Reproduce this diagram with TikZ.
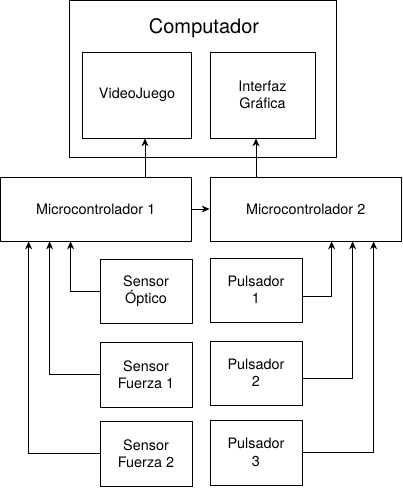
\documentclass[tikz,border=0pt]{standalone}
\usepackage{fontspec}
\setmainfont{TeX Gyre Heros}
\usetikzlibrary{arrows.meta,positioning}

\begin{document}
\begin{tikzpicture}[x=1pt, y=1pt,
  block/.style={draw, line width=0.8pt, inner sep=0pt, align=center,
                font=\fontsize{14.4}{17.3}\selectfont},
  link/.style={-{Stealth[length=8pt, width=7pt]}, line width=0.8pt},
]
\useasboundingbox (0,0) rectangle (403,-488);

% Computador
\node[block, minimum width=267pt, minimum height=157pt] (comp) at (202.5,-78.75) {};
\node[font=\fontsize{20}{24}\selectfont] (compl) at (204,-28) {Computador};
\node[block, minimum width=109pt, minimum height=86pt] (vj) at (137,-95) {VideoJuego};
\node[block, minimum width=105pt, minimum height=86pt] (ig) at (262.5,-95) {Interfaz\\Gráfica};

% Microcontroladores
\node[block, minimum width=190.5pt, minimum height=64pt] (m1) at (95.75,-209) {Microcontrolador 1};
\node[block, minimum width=191.5pt, minimum height=64pt] (m2) at (305.75,-209) {Microcontrolador 2};

% Sensores
\node[block, minimum width=92pt, minimum height=64pt] (so) at (146,-291) {Sensor\\Óptico};
\node[block, minimum width=92pt, minimum height=65pt] (sf1) at (146,-374.5) {Sensor\\Fuerza 1};
\node[block, minimum width=92pt, minimum height=65pt] (sf2) at (146,-453.5) {Sensor\\Fuerza 2};

% Pulsadores
\node[block, minimum width=92pt, minimum height=64pt] (p1) at (256,-290) {Pulsador\\1};
\node[block, minimum width=92pt, minimum height=64pt] (p2) at (256,-373) {Pulsador\\2};
\node[block, minimum width=92pt, minimum height=65pt] (p3) at (256,-452.5) {Pulsador\\3};

% Conexiones
\draw[link] ([xshift=8pt]vj.south |- m1.north) -- ([xshift=8pt]vj.south);
\draw[link] ([xshift=-6.5pt]ig.south |- m2.north) -- ([xshift=-6.5pt]ig.south);
\draw[link] (m1.east) -- (m2.west);

\draw[link] (so.west) -| ([xshift=70.5pt]m1.south west);
\draw[link] (sf1.west) -| ([xshift=49.5pt]m1.south west);
\draw[link] (sf2.west) -| ([xshift=28.5pt]m1.south west);

\draw[link] ([yshift=-6pt]p1.east) -| ([xshift=122pt]m2.south west);
\draw[link] ([yshift=-5pt]p2.east) -| ([xshift=143pt]m2.south west);
\draw[link] (p3.east) -| ([xshift=164pt]m2.south west);
\end{tikzpicture}
\end{document}
